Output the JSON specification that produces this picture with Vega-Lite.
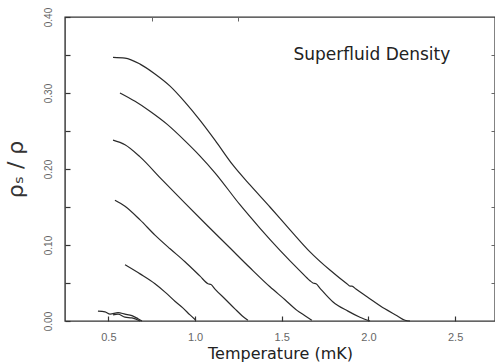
{
  "$schema": "https://vega.github.io/schema/vega-lite/v6.json",
  "width": 430,
  "height": 304,
  "autosize": {"type": "none"},
  "padding": {"left": 65, "top": 17, "right": 0, "bottom": 41},
  "background": "white",
  "config": {
    "view": {"stroke": "#333", "strokeWidth": 1.4},
    "axis": {"grid": false}
  },
  "datasets": {
    "curves": [
      {"s": "A", "T": 0.527, "rho": 0.347}, {"s": "A", "T": 0.596, "rho": 0.346}, {"s": "A", "T": 0.683, "rho": 0.338},
      {"s": "A", "T": 0.769, "rho": 0.325}, {"s": "A", "T": 0.856, "rho": 0.309}, {"s": "A", "T": 0.942, "rho": 0.288},
      {"s": "A", "T": 1.029, "rho": 0.264}, {"s": "A", "T": 1.115, "rho": 0.238}, {"s": "A", "T": 1.219, "rho": 0.205},
      {"s": "A", "T": 1.317, "rho": 0.179}, {"s": "A", "T": 1.432, "rho": 0.150}, {"s": "A", "T": 1.548, "rho": 0.120},
      {"s": "A", "T": 1.663, "rho": 0.091}, {"s": "A", "T": 1.778, "rho": 0.067}, {"s": "A", "T": 1.876, "rho": 0.049},
      {"s": "A", "T": 1.894, "rho": 0.046}, {"s": "A", "T": 1.905, "rho": 0.046}, {"s": "A", "T": 1.928, "rho": 0.042},
      {"s": "A", "T": 1.992, "rho": 0.032}, {"s": "A", "T": 2.095, "rho": 0.016}, {"s": "A", "T": 2.165, "rho": 0.007},
      {"s": "A", "T": 2.211, "rho": 0.001}, {"s": "A", "T": 2.24, "rho": 0.0},
      {"s": "B", "T": 0.567, "rho": 0.300}, {"s": "B", "T": 0.654, "rho": 0.289}, {"s": "B", "T": 0.740, "rho": 0.276},
      {"s": "B", "T": 0.838, "rho": 0.259}, {"s": "B", "T": 0.942, "rho": 0.237}, {"s": "B", "T": 1.029, "rho": 0.217},
      {"s": "B", "T": 1.115, "rho": 0.195}, {"s": "B", "T": 1.259, "rho": 0.153}, {"s": "B", "T": 1.375, "rho": 0.122},
      {"s": "B", "T": 1.490, "rho": 0.093}, {"s": "B", "T": 1.605, "rho": 0.066}, {"s": "B", "T": 1.663, "rho": 0.053},
      {"s": "B", "T": 1.680, "rho": 0.050}, {"s": "B", "T": 1.698, "rho": 0.049}, {"s": "B", "T": 1.721, "rho": 0.043},
      {"s": "B", "T": 1.796, "rho": 0.025}, {"s": "B", "T": 1.882, "rho": 0.013}, {"s": "B", "T": 1.951, "rho": 0.005},
      {"s": "B", "T": 2.009, "rho": 0.0},
      {"s": "C", "T": 0.527, "rho": 0.238}, {"s": "C", "T": 0.596, "rho": 0.232}, {"s": "C", "T": 0.683, "rho": 0.216},
      {"s": "C", "T": 0.809, "rho": 0.186}, {"s": "C", "T": 0.942, "rho": 0.155}, {"s": "C", "T": 1.069, "rho": 0.126},
      {"s": "C", "T": 1.202, "rho": 0.096}, {"s": "C", "T": 1.317, "rho": 0.070}, {"s": "C", "T": 1.432, "rho": 0.045},
      {"s": "C", "T": 1.519, "rho": 0.028}, {"s": "C", "T": 1.588, "rho": 0.014}, {"s": "C", "T": 1.634, "rho": 0.007},
      {"s": "C", "T": 1.674, "rho": 0.001},
      {"s": "D", "T": 0.538, "rho": 0.159}, {"s": "D", "T": 0.596, "rho": 0.151}, {"s": "D", "T": 0.683, "rho": 0.133},
      {"s": "D", "T": 0.769, "rho": 0.113}, {"s": "D", "T": 0.856, "rho": 0.095}, {"s": "D", "T": 0.942, "rho": 0.078},
      {"s": "D", "T": 1.029, "rho": 0.059}, {"s": "D", "T": 1.075, "rho": 0.049}, {"s": "D", "T": 1.092, "rho": 0.048},
      {"s": "D", "T": 1.115, "rho": 0.042}, {"s": "D", "T": 1.173, "rho": 0.029}, {"s": "D", "T": 1.230, "rho": 0.016},
      {"s": "D", "T": 1.271, "rho": 0.007}, {"s": "D", "T": 1.305, "rho": 0.001},
      {"s": "E", "T": 0.596, "rho": 0.074}, {"s": "E", "T": 0.683, "rho": 0.062}, {"s": "E", "T": 0.769, "rho": 0.049},
      {"s": "E", "T": 0.827, "rho": 0.038}, {"s": "E", "T": 0.884, "rho": 0.026}, {"s": "E", "T": 0.931, "rho": 0.017},
      {"s": "E", "T": 0.971, "rho": 0.008}, {"s": "E", "T": 1.005, "rho": 0.001},
      {"s": "F1", "T": 0.440, "rho": 0.013}, {"s": "F1", "T": 0.481, "rho": 0.012}, {"s": "F1", "T": 0.510, "rho": 0.009},
      {"s": "F1", "T": 0.556, "rho": 0.011}, {"s": "F1", "T": 0.596, "rho": 0.009}, {"s": "F1", "T": 0.636, "rho": 0.007},
      {"s": "F1", "T": 0.671, "rho": 0.003}, {"s": "F1", "T": 0.694, "rho": 0.0},
      {"s": "F2", "T": 0.527, "rho": 0.008}, {"s": "F2", "T": 0.556, "rho": 0.009}, {"s": "F2", "T": 0.596, "rho": 0.005},
      {"s": "F2", "T": 0.636, "rho": 0.004}, {"s": "F2", "T": 0.683, "rho": 0.0}
    ],
    "label": [{"text": "Superfluid Density", "T": 2.02, "rho": 0.35}]
  },
  "resolve": {"axis": {"x": "independent", "y": "independent"}},
  "layer": [
    {
      "data": {"name": "curves"},
      "mark": {"type": "line", "color": "#2a2a2a", "strokeWidth": 1.2, "interpolate": "monotone"},
      "encoding": {
        "x": {
          "field": "T", "type": "quantitative",
          "scale": {"domain": [0.25, 2.73], "nice": false, "zero": false},
          "axis": {
            "orient": "bottom", "title": "Temperature (mK)", "values": [0.5, 1.0, 1.5, 2.0, 2.5],
            "format": ".1f", "ticks": true, "tickSize": 5, "tickWidth": 1.2, "tickColor": "#333", "offset": -5,
            "domain": false, "zindex": 1,
            "labelFont": "Liberation Sans", "labelFontSize": 11, "labelColor": "#666", "labelPadding": 10, "labelBaseline": "top",
            "titleFont": "DejaVu Sans", "titleFontSize": 16, "titleFontWeight": "normal", "titleColor": "#222", "titlePadding": 3
          }
        },
        "y": {
          "field": "rho", "type": "quantitative",
          "scale": {"domain": [0, 0.4], "nice": false},
          "axis": {
            "orient": "left", "title": "ρₛ / ρ",
            "values": [0, 0.05, 0.1, 0.15, 0.2, 0.25, 0.3, 0.35, 0.4],
            "labelExpr": "round(datum.value*20) % 2 == 0 ? format(datum.value, '.2f') : ''",
            "ticks": true, "tickSize": 5, "tickWidth": 1.2, "tickColor": "#333", "offset": -5,
            "domain": false, "zindex": 1,
            "labelAngle": -90, "labelAlign": "center", "labelBaseline": "bottom",
            "labelFont": "Liberation Sans", "labelFontSize": 10, "labelColor": "#666", "labelPadding": 12,
            "titleFont": "DejaVu Sans", "titleFontSize": 22, "titleFontWeight": "normal", "titleColor": "#333", "titlePadding": 16
          }
        },
        "detail": {"field": "s", "type": "nominal"}
      }
    },
    {
      "data": {"name": "label"},
      "mark": {"type": "text", "font": "DejaVu Sans", "fontSize": 17, "color": "#222", "align": "center", "baseline": "middle"},
      "encoding": {
        "x": {"field": "T", "type": "quantitative", "axis": {"orient": "top", "values": [0.75, 1.25], "labels": false, "domain": false, "tickSize": 4, "offset": -4, "tickColor": "#666", "title": null, "zindex": 1}},
        "y": {"field": "rho", "type": "quantitative", "axis": {"orient": "right", "values": [0.05, 0.1, 0.15, 0.2, 0.25, 0.3, 0.35], "labels": false, "domain": false, "tickSize": 4, "offset": -4, "tickColor": "#666", "title": null, "zindex": 1}},
        "text": {"field": "text"}
      }
    }
  ]
}
